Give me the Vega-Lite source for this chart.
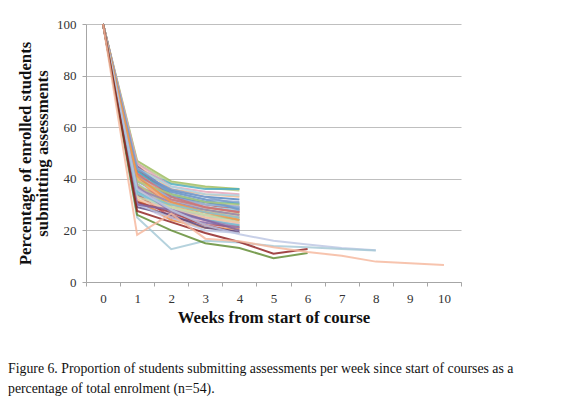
{
  "$schema": "https://vega.github.io/schema/vega-lite/v6.json",
  "width": 375,
  "height": 258,
  "autosize": "none",
  "padding": {"left": 86, "top": 24, "right": 101, "bottom": 117},
  "background": "white",
  "title": {
    "text": ["Figure 6. Proportion of students submitting assessments per week since start of courses  as a", "percentage of total enrolment (n=54)."],
    "orient": "bottom",
    "anchor": "start",
    "frame": "group",
    "dx": -78,
    "offset": 36,
    "font": "Liberation Serif",
    "fontSize": 13.8,
    "fontWeight": "normal",
    "color": "#111111",
    "lineHeight": 20
  },
  "data": {
    "values": [
      {"course":"s01","week":0,"pct":100},{"course":"s01","week":1,"pct":47},{"course":"s01","week":2,"pct":39},{"course":"s01","week":3,"pct":37},{"course":"s01","week":4,"pct":36},
      {"course":"s02","week":0,"pct":100},{"course":"s02","week":1,"pct":46},{"course":"s02","week":2,"pct":38.5},{"course":"s02","week":3,"pct":36.5},{"course":"s02","week":4,"pct":35.5},
      {"course":"s03","week":0,"pct":100},{"course":"s03","week":1,"pct":44},{"course":"s03","week":2,"pct":38},{"course":"s03","week":3,"pct":36},{"course":"s03","week":4,"pct":36},
      {"course":"s04","week":0,"pct":100},{"course":"s04","week":1,"pct":45},{"course":"s04","week":2,"pct":36},{"course":"s04","week":3,"pct":34},{"course":"s04","week":4,"pct":33},
      {"course":"s05","week":0,"pct":100},{"course":"s05","week":1,"pct":43},{"course":"s05","week":2,"pct":35.5},{"course":"s05","week":3,"pct":33},{"course":"s05","week":4,"pct":32},
      {"course":"s06","week":0,"pct":100},{"course":"s06","week":1,"pct":42},{"course":"s06","week":2,"pct":36},{"course":"s06","week":3,"pct":33},{"course":"s06","week":4,"pct":30},
      {"course":"s07","week":0,"pct":100},{"course":"s07","week":1,"pct":45},{"course":"s07","week":2,"pct":34},{"course":"s07","week":3,"pct":31},{"course":"s07","week":4,"pct":29},
      {"course":"s08","week":0,"pct":100},{"course":"s08","week":1,"pct":44},{"course":"s08","week":2,"pct":33},{"course":"s08","week":3,"pct":30},{"course":"s08","week":4,"pct":28},
      {"course":"s09","week":0,"pct":100},{"course":"s09","week":1,"pct":41},{"course":"s09","week":2,"pct":32},{"course":"s09","week":3,"pct":30},{"course":"s09","week":4,"pct":29.5},
      {"course":"s10","week":0,"pct":100},{"course":"s10","week":1,"pct":40},{"course":"s10","week":2,"pct":33},{"course":"s10","week":3,"pct":31},{"course":"s10","week":4,"pct":28.5},
      {"course":"s11","week":0,"pct":100},{"course":"s11","week":1,"pct":42},{"course":"s11","week":2,"pct":31},{"course":"s11","week":3,"pct":29},{"course":"s11","week":4,"pct":27},
      {"course":"s12","week":0,"pct":100},{"course":"s12","week":1,"pct":39},{"course":"s12","week":2,"pct":32},{"course":"s12","week":3,"pct":29},{"course":"s12","week":4,"pct":27.5},
      {"course":"s13","week":0,"pct":100},{"course":"s13","week":1,"pct":38},{"course":"s13","week":2,"pct":31},{"course":"s13","week":3,"pct":29},{"course":"s13","week":4,"pct":28},
      {"course":"s14","week":0,"pct":100},{"course":"s14","week":1,"pct":37},{"course":"s14","week":2,"pct":30},{"course":"s14","week":3,"pct":28},{"course":"s14","week":4,"pct":26},
      {"course":"s15","week":0,"pct":100},{"course":"s15","week":1,"pct":36},{"course":"s15","week":2,"pct":30},{"course":"s15","week":3,"pct":27},{"course":"s15","week":4,"pct":26.5},
      {"course":"s16","week":0,"pct":100},{"course":"s16","week":1,"pct":40},{"course":"s16","week":2,"pct":29},{"course":"s16","week":3,"pct":27},{"course":"s16","week":4,"pct":25},
      {"course":"s17","week":0,"pct":100},{"course":"s17","week":1,"pct":35},{"course":"s17","week":2,"pct":29},{"course":"s17","week":3,"pct":26},{"course":"s17","week":4,"pct":25.5},
      {"course":"s18","week":0,"pct":100},{"course":"s18","week":1,"pct":38},{"course":"s18","week":2,"pct":28},{"course":"s18","week":3,"pct":26},{"course":"s18","week":4,"pct":24},
      {"course":"s19","week":0,"pct":100},{"course":"s19","week":1,"pct":34},{"course":"s19","week":2,"pct":28},{"course":"s19","week":3,"pct":25},{"course":"s19","week":4,"pct":24.5},
      {"course":"s20","week":0,"pct":100},{"course":"s20","week":1,"pct":36},{"course":"s20","week":2,"pct":27},{"course":"s20","week":3,"pct":25},{"course":"s20","week":4,"pct":23},
      {"course":"s21","week":0,"pct":100},{"course":"s21","week":1,"pct":33},{"course":"s21","week":2,"pct":27},{"course":"s21","week":3,"pct":24},{"course":"s21","week":4,"pct":23.5},
      {"course":"s22","week":0,"pct":100},{"course":"s22","week":1,"pct":35},{"course":"s22","week":2,"pct":26},{"course":"s22","week":3,"pct":24},{"course":"s22","week":4,"pct":22},
      {"course":"s23","week":0,"pct":100},{"course":"s23","week":1,"pct":32},{"course":"s23","week":2,"pct":26},{"course":"s23","week":3,"pct":23.5},{"course":"s23","week":4,"pct":22.5},
      {"course":"s24","week":0,"pct":100},{"course":"s24","week":1,"pct":31},{"course":"s24","week":2,"pct":25},{"course":"s24","week":3,"pct":23},{"course":"s24","week":4,"pct":21},
      {"course":"s25","week":0,"pct":100},{"course":"s25","week":1,"pct":34},{"course":"s25","week":2,"pct":25},{"course":"s25","week":3,"pct":22},{"course":"s25","week":4,"pct":21.5},
      {"course":"s26","week":0,"pct":100},{"course":"s26","week":1,"pct":30},{"course":"s26","week":2,"pct":24},{"course":"s26","week":3,"pct":22},{"course":"s26","week":4,"pct":20},
      {"course":"s27","week":0,"pct":100},{"course":"s27","week":1,"pct":32},{"course":"s27","week":2,"pct":24},{"course":"s27","week":3,"pct":21},{"course":"s27","week":4,"pct":20.5},
      {"course":"s28","week":0,"pct":100},{"course":"s28","week":1,"pct":31},{"course":"s28","week":2,"pct":27},{"course":"s28","week":3,"pct":22},{"course":"s28","week":4,"pct":19},
      {"course":"s29","week":0,"pct":100},{"course":"s29","week":1,"pct":29},{"course":"s29","week":2,"pct":26},{"course":"s29","week":3,"pct":21},{"course":"s29","week":4,"pct":19.5},
      {"course":"s30","week":0,"pct":100},{"course":"s30","week":1,"pct":30},{"course":"s30","week":2,"pct":25},{"course":"s30","week":3,"pct":20},{"course":"s30","week":4,"pct":19},
      {"course":"s31","week":0,"pct":100},{"course":"s31","week":1,"pct":43},{"course":"s31","week":2,"pct":34},{"course":"s31","week":3,"pct":31},{"course":"s31","week":4,"pct":30.5},
      {"course":"s32","week":0,"pct":100},{"course":"s32","week":1,"pct":41},{"course":"s32","week":2,"pct":35},{"course":"s32","week":3,"pct":32},{"course":"s32","week":4,"pct":31},
      {"course":"s33","week":0,"pct":100},{"course":"s33","week":1,"pct":39},{"course":"s33","week":2,"pct":33},{"course":"s33","week":3,"pct":30},{"course":"s33","week":4,"pct":29},
      {"course":"s34","week":0,"pct":100},{"course":"s34","week":1,"pct":37},{"course":"s34","week":2,"pct":32},{"course":"s34","week":3,"pct":29},{"course":"s34","week":4,"pct":27},
      {"course":"s35","week":0,"pct":100},{"course":"s35","week":1,"pct":46},{"course":"s35","week":2,"pct":37},{"course":"s35","week":3,"pct":35},{"course":"s35","week":4,"pct":34},
      {"course":"s36","week":0,"pct":100},{"course":"s36","week":1,"pct":44},{"course":"s36","week":2,"pct":37},{"course":"s36","week":3,"pct":34},{"course":"s36","week":4,"pct":33.5},
      {"course":"s37","week":0,"pct":100},{"course":"s37","week":1,"pct":40},{"course":"s37","week":2,"pct":30},{"course":"s37","week":3,"pct":27},{"course":"s37","week":4,"pct":25},
      {"course":"s38","week":0,"pct":100},{"course":"s38","week":1,"pct":38},{"course":"s38","week":2,"pct":29},{"course":"s38","week":3,"pct":26},{"course":"s38","week":4,"pct":24},
      {"course":"s39","week":0,"pct":100},{"course":"s39","week":1,"pct":36},{"course":"s39","week":2,"pct":31},{"course":"s39","week":3,"pct":28},{"course":"s39","week":4,"pct":26},
      {"course":"s40","week":0,"pct":100},{"course":"s40","week":1,"pct":33},{"course":"s40","week":2,"pct":29},{"course":"s40","week":3,"pct":26},{"course":"s40","week":4,"pct":23},
      {"course":"s41","week":0,"pct":100},{"course":"s41","week":1,"pct":42},{"course":"s41","week":2,"pct":33},{"course":"s41","week":3,"pct":29},{"course":"s41","week":4,"pct":27},
      {"course":"s42","week":0,"pct":100},{"course":"s42","week":1,"pct":35},{"course":"s42","week":2,"pct":28},{"course":"s42","week":3,"pct":24},{"course":"s42","week":4,"pct":22},
      {"course":"s43","week":0,"pct":100},{"course":"s43","week":1,"pct":44},{"course":"s43","week":2,"pct":35},{"course":"s43","week":3,"pct":32},{"course":"s43","week":4,"pct":28},
      {"course":"s44","week":0,"pct":100},{"course":"s44","week":1,"pct":39},{"course":"s44","week":2,"pct":34},{"course":"s44","week":3,"pct":31},{"course":"s44","week":4,"pct":30},
      {"course":"s45","week":0,"pct":100},{"course":"s45","week":1,"pct":32},{"course":"s45","week":2,"pct":28},{"course":"s45","week":3,"pct":25},{"course":"s45","week":4,"pct":23},
      {"course":"s46","week":0,"pct":100},{"course":"s46","week":1,"pct":37},{"course":"s46","week":2,"pct":27},{"course":"s46","week":3,"pct":24},{"course":"s46","week":4,"pct":21},
      {"course":"s47","week":0,"pct":100},{"course":"s47","week":1,"pct":41},{"course":"s47","week":2,"pct":31},{"course":"s47","week":3,"pct":27},{"course":"s47","week":4,"pct":24},
      {"course":"s48","week":0,"pct":100},{"course":"s48","week":1,"pct":30},{"course":"s48","week":2,"pct":28},{"course":"s48","week":3,"pct":24},{"course":"s48","week":4,"pct":20},
      {"course":"s49","week":0,"pct":100},{"course":"s49","week":1,"pct":34},{"course":"s49","week":2,"pct":30},{"course":"s49","week":3,"pct":27},{"course":"s49","week":4,"pct":25},
      {"course":"s50","week":0,"pct":100},{"course":"s50","week":1,"pct":36},{"course":"s50","week":2,"pct":28},{"course":"s50","week":3,"pct":22},{"course":"s50","week":4,"pct":18.5},{"course":"s50","week":5,"pct":16},{"course":"s50","week":6,"pct":14.5},{"course":"s50","week":7,"pct":13.2},{"course":"s50","week":8,"pct":12.3},
      {"course":"s51","week":0,"pct":100},{"course":"s51","week":1,"pct":25},{"course":"s51","week":2,"pct":12.7},{"course":"s51","week":3,"pct":16},{"course":"s51","week":4,"pct":15.3},{"course":"s51","week":5,"pct":14},{"course":"s51","week":6,"pct":13.5},{"course":"s51","week":7,"pct":12.8},{"course":"s51","week":8,"pct":12.2},
      {"course":"s52","week":0,"pct":100},{"course":"s52","week":1,"pct":26},{"course":"s52","week":2,"pct":20},{"course":"s52","week":3,"pct":15},{"course":"s52","week":4,"pct":13.2},{"course":"s52","week":5,"pct":9.2},{"course":"s52","week":6,"pct":11.2},
      {"course":"s53","week":0,"pct":100},{"course":"s53","week":1,"pct":27.5},{"course":"s53","week":2,"pct":23.2},{"course":"s53","week":3,"pct":19},{"course":"s53","week":4,"pct":15.5},{"course":"s53","week":5,"pct":11},{"course":"s53","week":6,"pct":12.8},
      {"course":"s54","week":0,"pct":100},{"course":"s54","week":1,"pct":18.3},{"course":"s54","week":2,"pct":26.5},{"course":"s54","week":3,"pct":16.8},{"course":"s54","week":4,"pct":15.8},{"course":"s54","week":5,"pct":13.5},{"course":"s54","week":6,"pct":11.6},{"course":"s54","week":7,"pct":10.2},{"course":"s54","week":8,"pct":7.9},{"course":"s54","week":9,"pct":7.3},{"course":"s54","week":10,"pct":6.6}
    ]
  },
  "mark": {"type": "line", "strokeWidth": 2, "opacity": 0.82, "clip": false},
  "encoding": {
    "x": {
      "field": "week",
      "type": "ordinal",
      "bandPosition": 0.5,
      "scale": {"type": "band", "domain": [0,1,2,3,4,5,6,7,8,9,10], "paddingInner": 0, "paddingOuter": 0},
      "axis": {
        "title": "Weeks from start of course",
        "labelAngle": 0,
        "tickBand": "extent",
        "tickSize": 4,
        "tickColor": "#A6A6A6",
        "domainColor": "#A6A6A6",
        "labelFont": "Liberation Serif",
        "labelFontSize": 13,
        "labelColor": "#333333",
        "labelPadding": 6,
        "titleFont": "Liberation Serif",
        "titleFontSize": 16.8,
        "titleFontWeight": "bold",
        "titleColor": "#111111",
        "titlePadding": 4,
        "grid": false
      }
    },
    "y": {
      "field": "pct",
      "type": "quantitative",
      "scale": {"domain": [0, 100], "nice": false},
      "axis": {
        "title": ["Percentage of enrolled students", "submitting assessments"],
        "values": [0, 20, 40, 60, 80, 100],
        "tickSize": 4,
        "tickColor": "#A6A6A6",
        "domainColor": "#A6A6A6",
        "gridColor": "#BFBFBF",
        "labelFont": "Liberation Serif",
        "labelFontSize": 13,
        "labelColor": "#333333",
        "labelPadding": 6,
        "titleFont": "Liberation Serif",
        "titleFontSize": 16.8,
        "titleFontWeight": "bold",
        "titleColor": "#111111",
        "titlePadding": 5,
        "titleLineHeight": 17
      }
    },
    "color": {
      "field": "course",
      "type": "nominal",
      "legend": null,
      "scale": {
        "range": ["#9BBB59","#B3CB88","#4BACC6","#F9B280","#4F81BD","#7F9FCB","#8064A2","#C0504D","#BDB0CF","#4F81BD","#DCA9A8","#A08FB8","#A8D4E2","#9BBB59","#C3CB88","#F79646","#FBC9A5","#BDB0CF","#7FC3D6","#E6A39A","#D8C49A","#A7BDDE","#E8B4C8","#8064A2","#C0504D","#C8C0E0","#F79646","#A33D3A","#5C4A80","#BCC6E3","#4BACC6","#7F9FCB","#8FB4D8","#CD7F7D","#E3A3B8","#A8D4E2","#F9B280","#B3CB88","#9983B5","#CBDBAE","#CD7371","#6FBDD1","#729ACA","#AFC97A","#F4C7A8","#9983B5","#F79646","#8064A2","#7FC3D6","#BCC6E3","#A5C8D6","#5E8A2E","#8E1F1F","#F5B79C"]
      }
    },
    "order": {"field": "week", "type": "quantitative"}
  },
  "config": {
    "view": {"stroke": null}
  }
}
